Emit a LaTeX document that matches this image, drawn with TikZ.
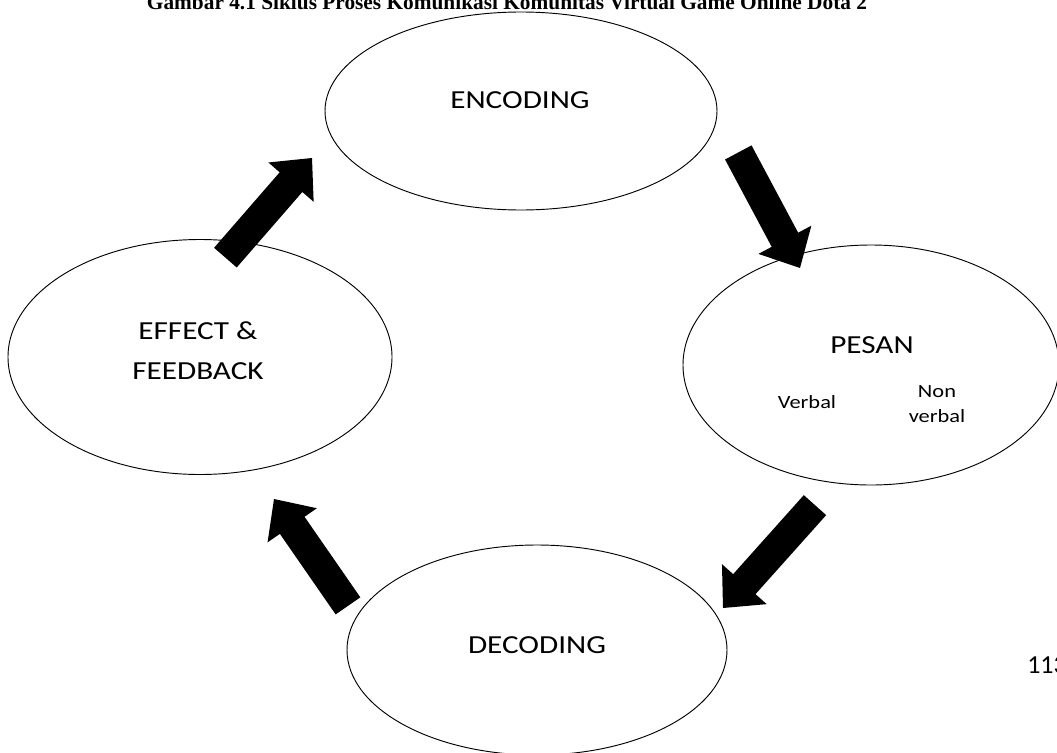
\documentclass[tikz,border=0pt]{standalone}
\usepackage{fontspec}
\setmainfont{Carlito}
\newfontfamily\capfont{Liberation Serif}
\usetikzlibrary{shapes.geometric}
\tikzset{
  cyc/.style={draw, ellipse, line width=0.7pt, inner sep=0pt},
  lbl/.style={font=\fontsize{19.5}{24}\selectfont, align=center, inner sep=0pt, xscale=1.2},
  small/.style={font=\fontsize{14}{17}\selectfont, align=center, inner sep=0pt, xscale=1.2},
  blk/.style={fill=black}
}
\newcommand\blockarrow[4]{% name, tip, angle, length
  \fill[blk, shift={(#2)}, rotate=#3] (0,0) -- (-32,30) -- (-32,15) -- (-#4,15) -- (-#4,-15) -- (-32,-15) -- (-32,-30) -- cycle;
  \coordinate (#1) at (#2);
}
\begin{document}
\begin{tikzpicture}[x=0.75pt,y=0.75pt]
\useasboundingbox (0,0) rectangle (1057,-753);
\node[font=\capfont\bfseries\fontsize{16}{19}\selectfont, anchor=base, inner sep=0pt] (cap) at (507,-9) {Gambar 4.1 Siklus Proses Komunikasi Komunitas Virtual Game Online Dota 2};
\node[cyc, minimum width=392*0.75pt, minimum height=198*0.75pt] (enc) at (521,-111) {};
\node[cyc, minimum width=376*0.75pt, minimum height=240*0.75pt] (pes) at (871,-365) {};
\node[cyc, minimum width=384*0.75pt, minimum height=235*0.75pt] (eff) at (200,-357) {};
\node[cyc, minimum width=380*0.75pt, minimum height=210*0.75pt] (dec) at (537,-650) {};
\node[lbl] (tenc) at (520,-100) {ENCODING};
\node[lbl] (tpes) at (872,-345) {PESAN};
\node[small] (tverb) at (807,-402) {Verbal};
\node[small, font=\fontsize{14}{19}\selectfont] (tnon) at (937,-404) {Non\\verbal};
\node[lbl, font=\fontsize{19.5}{30}\selectfont] (teff) at (198,-351) {EFFECT \&\\FEEDBACK};
\node[lbl] (tdec) at (537,-645) {DECODING};
\node[font=\fontsize{19.5}{24}\selectfont, inner sep=0pt, anchor=west] (pg) at (1027,-665) {113};
\blockarrow{a1}{800,-268}{-61.9}{131}
\blockarrow{a2}{723,-608}{228.2}{138}
\blockarrow{a3}{274,-499}{124.7}{130}
\blockarrow{a4}{312,-158}{49}{132}
\end{tikzpicture}
\end{document}
